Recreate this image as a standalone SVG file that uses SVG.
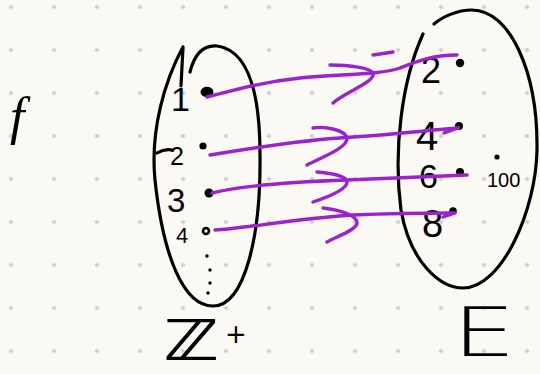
<svg xmlns="http://www.w3.org/2000/svg" width="540" height="374" viewBox="0 0 540 374">
  <defs>
    <pattern id="grid" x="-10.5" y="-14.5" width="43" height="43" patternUnits="userSpaceOnUse">
      <circle cx="21.5" cy="21.5" r="2.1" fill="#cfcdca"/>
    </pattern>
    <style>
      .ink { fill: none; stroke: #000; stroke-width: 3.2; stroke-linecap: round; stroke-linejoin: round; }
      .pur { fill: none; stroke: #9b22cc; stroke-width: 3.4; stroke-linecap: round; stroke-linejoin: round; }
      .t { font-family: "Liberation Sans", "DejaVu Sans", sans-serif; fill: #000; }
      .dot { fill: #000; }
    </style>
  </defs>
  <rect width="540" height="374" fill="#fbf9f4"/>
  <rect width="540" height="374" fill="url(#grid)"/>

  <!-- f label -->
  <g id="f-label">
    <text x="10" y="134" font-size="52" font-style="italic" style="font-family:'Liberation Serif',serif">f</text>
  </g>

  <!-- Left set Z+ -->
  <g id="set-left">
    <path class="ink" d="M190,72 C195,52 205,45 217,46 C247,50 260,90 260,155 C261,235 245,306 213,306 C183,306 163,255 155,180 C150,130 165,80 183,47 L181,86"/>
    <text class="t" x="171" y="111" font-size="34">1</text>
    <ellipse cx="207" cy="92" rx="5.5" ry="4.2" fill="#000" stroke="#000" stroke-width="2"/>
    <path class="ink" d="M157,153 C162,150 167,149 172,150"/>
    <text class="t" x="170" y="165" font-size="25">2</text>
    <circle class="dot" cx="203" cy="146" r="3.6"/>
    <text class="t" x="167" y="212" font-size="33">3</text>
    <circle class="dot" cx="209" cy="193" r="4.5"/>
    <text class="t" x="176" y="243" font-size="22">4</text>
    <circle cx="206" cy="231" r="3" fill="none" stroke="#000" stroke-width="2.6"/>
    <circle class="dot" cx="207" cy="256" r="1.7"/>
    <circle class="dot" cx="210" cy="270" r="1.7"/>
    <circle class="dot" cx="210" cy="283" r="1.7"/>
    <circle class="dot" cx="208" cy="293" r="1.7"/>
  </g>

  <!-- Right set E -->
  <g id="set-right">
    <path class="ink" d="M423,34 C402,80 393,150 401,210 C410,262 440,288 463,288 C502,288 536,210 537,150 C538,72 510,10 472,10 C457,10 442,17 434,24"/>
    <text class="t" x="421" y="83" font-size="36">2</text>
    <circle class="dot" cx="460" cy="63" r="4.2"/>
    <text class="t" x="416" y="150" font-size="40">4</text>
    <circle class="dot" cx="459" cy="126" r="4"/>
    <text class="t" x="419" y="188" font-size="34">6</text>
    <circle class="dot" cx="460" cy="172" r="4"/>
    <text class="t" x="422" y="237" font-size="38">8</text>
    <circle class="dot" cx="453" cy="211" r="3.8"/>
    <text class="t" x="487" y="187" font-size="20">100</text>
    <circle class="dot" cx="497" cy="157" r="2.6"/>
  </g>

  <!-- connectors -->
  <g id="connectors">
    <path class="pur" d="M207,97 C235,90 262,82 300,78 C340,74 380,75 400,68 C415,62 432,55 457,55"/>
    <path class="pur" d="M330,65 C350,65 370,68 373,73 C376,82 345,92 333,103"/>
    <path class="pur" d="M373,55 L393,52"/>

    <path class="pur" d="M210,155 C240,150 300,140 353,137 C400,134 430,130 458,128"/>
    <path class="pur" d="M444,133 L458,128"/>
    <path class="pur" d="M313,128 C325,126 345,130 347,138 C348,148 320,158 307,165"/>

    <path class="pur" d="M212,193 C240,186 290,182 347,180 C400,178 440,176 467,175"/>
    <path class="pur" d="M317,172 C330,173 347,176 347,182 C347,190 325,198 313,202"/>

    <path class="pur" d="M215,230 C240,229 300,218 353,215 C400,213 430,213 453,213"/>
    <path class="pur" d="M443,217 L455,213"/>
    <path class="pur" d="M323,208 C340,210 357,215 357,223 C357,230 335,237 327,242"/>
  </g>

  <!-- set labels -->
  <g id="label-zplus">
    <text x="163" y="360" font-size="56" font-weight="bold" textLength="56" lengthAdjust="spacingAndGlyphs" style="font-family:'DejaVu Sans',sans-serif">ℤ</text>
    <text x="225" y="343" font-size="26" style="font-family:'DejaVu Sans',sans-serif">+</text>
  </g>
  <g id="label-e">
    <text x="452" y="356" font-size="68" font-weight="200" textLength="64" lengthAdjust="spacingAndGlyphs" style="font-family:'DejaVu Sans',sans-serif">E</text>
  </g>
</svg>
